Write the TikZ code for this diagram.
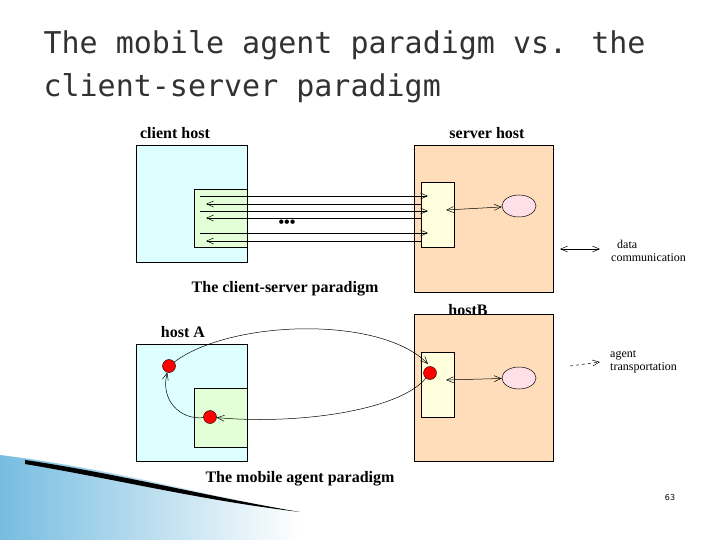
\documentclass[tikz,border=0pt]{standalone}
\usepackage{fontspec}
\setmainfont{Liberation Serif}
\newfontfamily\titlefont{DejaVu Sans Mono}
\newfontfamily\numfont{DejaVu Sans}
\usetikzlibrary{arrows,arrows.meta,shapes,calc,positioning}
\definecolor{cielo}{RGB}{221, 255, 255}
\definecolor{verdeClaro}{RGB}{226, 255, 216}
\definecolor{durazno}{RGB}{255, 221, 187}
\definecolor{crema}{RGB}{255, 255, 221}
\definecolor{rosa}{RGB}{255, 224, 232}
\definecolor{tituloGris}{RGB}{50, 50, 50}
\definecolor{azulOla}{RGB}{60, 160, 210}
\tikzstyle{hostbox}=[draw, line width=0.5pt]
\tikzstyle{msg}    =[-{Straight Barb[length=7pt,width=6pt]}, line width=0.5pt]
\tikzstyle{dmsg}   =[{Straight Barb[length=7pt,width=6pt]}-{Straight Barb[length=7pt,width=6pt]}, line width=0.5pt]
\tikzstyle{agent}  =[circle, draw, fill=red, minimum size=13pt,
                     inner sep=0pt, line width=0.4pt]
\tikzstyle{proc}   =[ellipse, draw, fill=rosa, minimum width=34pt,
                     minimum height=22pt, line width=0.5pt]
\tikzstyle{hlabel} =[font=\bfseries\fontsize{16}{18}\selectfont, inner sep=0pt]
\tikzstyle{small}  =[font=\fontsize{12}{13}\selectfont, align=left, inner sep=0pt]
\begin{document}
\begin{tikzpicture}[x=1pt,y=-1pt]
    \useasboundingbox (0,0) rectangle (720,540);
    \fill[white] (0,0) rectangle (720,540);

    % decorative wave
    \shade[left color=azulOla!70!white, right color=white]
        (0,455) .. controls (120,470) and (200,495) .. (300,512)
        -- (300,540) -- (0,540) -- cycle;
    \fill (25,460) .. controls (120,474) and (200,495) .. (300,512)
        .. controls (200,500) and (120,480) .. (25,464) -- cycle;

    % title
    \node[anchor=west, text=tituloGris, font=\titlefont\fontsize{30}{36}\selectfont]
        (title1) at (40,45) {The mobile agent paradigm vs. the};
    \node[anchor=west, text=tituloGris, font=\titlefont\fontsize{30}{36}\selectfont]
        (title2) at (40,88) {client-server paradigm};

    % client-server paradigm
    \draw[hostbox, fill=cielo] (136,145) rectangle (247,262);
    \draw[hostbox, fill=verdeClaro] (194,189) rectangle (247,247);
    \draw[hostbox, fill=durazno] (414,145) rectangle (553,292);
    \draw[hostbox, fill=crema] (421,182) rectangle (454,247);
    \node[proc] (srv) at (519,206) {};
    \node[hlabel] (clientlbl) at (175,133) {client host};
    \node[hlabel] (serverlbl) at (487,133) {server host};
    \node[hlabel] (cslbl) at (285,289) {The client-server paradigm};
    \foreach \y in {196,211,233}
        \draw[msg] (200,\y) -- (428,\y);
    \foreach \y in {204,218,241}
        \draw[msg] (421,\y) -- (206,\y);
    \node[font=\bfseries\fontsize{16}{16}\selectfont] (dots) at (287,224) {•••};
    \coordinate (cs1) at (446,210);
    \draw[dmsg] (cs1) -- (srv);
    \coordinate (leg1a) at (560,249); \coordinate (leg1b) at (600,249);
    \draw[dmsg] (leg1a) -- (leg1b);
    \node[small, anchor=west] (leg1) at (611,251) {\ \ data\\communication};

    % mobile agent paradigm
    \draw[hostbox, fill=cielo] (136,344) rectangle (247,461);
    \draw[hostbox, fill=verdeClaro] (194,388) rectangle (247,447);
    \draw[hostbox, fill=durazno] (414,314) rectangle (553,461);
    \draw[hostbox, fill=crema] (421,352) rectangle (454,417);
    \node[proc] (srvB) at (519,378) {};
    \node[hlabel] (hostA) at (183,332) {host A};
    \node[hlabel] (hostB) at (468,310) {hostB};
    \node[hlabel] (malbl) at (300,479) {The mobile agent paradigm};
    \node[agent] (a1) at (169,366) {};
    \node[agent] (a2) at (210,417) {};
    \node[agent] (a3) at (430,373) {};
    \coordinate (entry) at (428,364);
    \draw[msg] (a1) .. controls (230,320) and (380,315) .. (entry);
    \draw[msg] (a3) .. controls (400,410) and (300,425) .. (a2);
    \draw[msg] (a2) .. controls (180,420) and (160,400) .. (a1);
    \coordinate (cs2) at (446,380);
    \draw[dmsg] (cs2) -- (srvB);
    \coordinate (leg2a) at (570,366); \coordinate (leg2b) at (600,362);
    \draw[msg, dashed] (leg2a) -- (leg2b);
    \node[small, anchor=west] (leg2) at (610,362) {agent\\transportation};

    \node[font=\numfont\fontsize{8}{9}\selectfont] (pg) at (670,498) {63};
\end{tikzpicture}
\end{document}
